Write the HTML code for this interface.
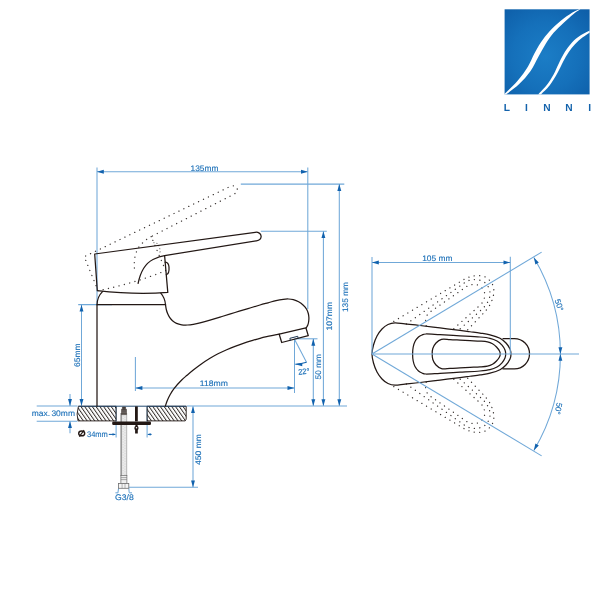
<!DOCTYPE html>
<html><head><meta charset="utf-8"><style>
html,body{margin:0;padding:0;background:#fff;}
svg{display:block;font-family:"Liberation Sans",sans-serif;will-change:transform;}
text{text-rendering:geometricPrecision;}
</style></head><body>
<svg width="600" height="600" viewBox="0 0 600 600">
<line x1="97" y1="167.5" x2="97" y2="304.7" stroke="#70a8d8" stroke-width="1.05"/>
<line x1="97" y1="171.8" x2="307.8" y2="171.8" stroke="#70a8d8" stroke-width="1.05"/>
<polygon points="97.00,171.80 103.80,169.85 103.80,173.75" fill="#1162ae"/>
<polygon points="307.80,171.80 301.00,173.75 301.00,169.85" fill="#1162ae"/>
<text transform="translate(204.5 171) scale(0.1)" x="0" y="0" font-size="81.0" text-anchor="middle" fill="#1c70b8" stroke="#1c70b8" stroke-width="1.3" textLength="280.0" lengthAdjust="spacingAndGlyphs">135mm</text>
<line x1="307.8" y1="167.5" x2="307.8" y2="309" stroke="#70a8d8" stroke-width="1.05"/>
<line x1="240.8" y1="184.1" x2="344.3" y2="184.1" stroke="#70a8d8" stroke-width="1.05"/>
<line x1="339.3" y1="184.1" x2="339.3" y2="406" stroke="#70a8d8" stroke-width="1.05"/>
<polygon points="339.30,184.10 341.25,190.90 337.35,190.90" fill="#1162ae"/>
<polygon points="339.30,406.00 337.35,399.20 341.25,399.20" fill="#1162ae"/>
<text transform="translate(347.8 297) rotate(-90) scale(0.1)" x="0" y="0" font-size="81.0" text-anchor="middle" fill="#1c70b8" stroke="#1c70b8" stroke-width="1.3" textLength="300.0" lengthAdjust="spacingAndGlyphs">135 mm</text>
<line x1="260.8" y1="231.3" x2="326.8" y2="231.3" stroke="#70a8d8" stroke-width="1.05"/>
<line x1="323.4" y1="231.3" x2="323.4" y2="406" stroke="#70a8d8" stroke-width="1.05"/>
<polygon points="323.40,231.30 325.35,238.10 321.45,238.10" fill="#1162ae"/>
<polygon points="323.40,406.00 321.45,399.20 325.35,399.20" fill="#1162ae"/>
<text transform="translate(332 316.2) rotate(-90) scale(0.1)" x="0" y="0" font-size="81.0" text-anchor="middle" fill="#1c70b8" stroke="#1c70b8" stroke-width="1.3" textLength="285.0" lengthAdjust="spacingAndGlyphs">107mm</text>
<line x1="294.5" y1="338.8" x2="317.5" y2="338.8" stroke="#70a8d8" stroke-width="1.05"/>
<line x1="313.3" y1="338.8" x2="313.3" y2="406" stroke="#70a8d8" stroke-width="1.05"/>
<polygon points="313.30,338.80 315.25,345.80 311.35,345.80" fill="#1162ae"/>
<polygon points="313.30,406.00 311.35,399.20 315.25,399.20" fill="#1162ae"/>
<text transform="translate(321 366.7) rotate(-90) scale(0.1)" x="0" y="0" font-size="81.0" text-anchor="middle" fill="#1c70b8" stroke="#1c70b8" stroke-width="1.3" textLength="255.0" lengthAdjust="spacingAndGlyphs">50 mm</text>
<line x1="186.7" y1="406" x2="347" y2="406" stroke="#70a8d8" stroke-width="1.05"/>
<line x1="135.4" y1="357" x2="135.4" y2="391" stroke="#70a8d8" stroke-width="1.05"/>
<line x1="294.5" y1="339" x2="294.5" y2="393" stroke="#70a8d8" stroke-width="1.05"/>
<line x1="135.4" y1="388" x2="294.5" y2="388" stroke="#70a8d8" stroke-width="1.05"/>
<polygon points="135.40,388.00 142.40,386.05 142.40,389.95" fill="#1162ae"/>
<polygon points="294.50,388.00 287.50,389.95 287.50,386.05" fill="#1162ae"/>
<text transform="translate(213.8 386) scale(0.1)" x="0" y="0" font-size="81.0" text-anchor="middle" fill="#1c70b8" stroke="#1c70b8" stroke-width="1.3" textLength="280.0" lengthAdjust="spacingAndGlyphs">118mm</text>
<line x1="294.5" y1="339.2" x2="306.5" y2="362.2" stroke="#70a8d8" stroke-width="1.05"/>
<path d="M295.3,364.2 Q301.5,364 306.6,362.3" fill="none" stroke="#1162ae" stroke-width="1.1"/>
<polygon points="295.30,364.30 302.35,362.95 302.24,366.14" fill="#1162ae"/>
<text transform="translate(304 374.2) rotate(-5) scale(0.1)" x="0" y="0" font-size="80.0" text-anchor="middle" fill="#1c70b8" stroke="#1c70b8" stroke-width="2.0" textLength="112.0" lengthAdjust="spacingAndGlyphs">22°</text>
<line x1="78.2" y1="304.6" x2="112" y2="304.6" stroke="#70a8d8" stroke-width="1.05"/>
<line x1="81.5" y1="304.7" x2="81.5" y2="405.8" stroke="#70a8d8" stroke-width="1.05"/>
<polygon points="81.50,304.70 83.45,311.50 79.55,311.50" fill="#1162ae"/>
<polygon points="81.50,405.80 79.55,399.00 83.45,399.00" fill="#1162ae"/>
<text transform="translate(79.8 355.2) rotate(-90) scale(0.1)" x="0" y="0" font-size="81.0" text-anchor="middle" fill="#1c70b8" stroke="#1c70b8" stroke-width="1.3" textLength="238.0" lengthAdjust="spacingAndGlyphs">65mm</text>
<line x1="36.7" y1="405.9" x2="77.5" y2="405.9" stroke="#70a8d8" stroke-width="1.05"/>
<line x1="36.7" y1="421.2" x2="77.5" y2="421.2" stroke="#70a8d8" stroke-width="1.05"/>
<line x1="70" y1="394" x2="70" y2="405.9" stroke="#70a8d8" stroke-width="1.05"/>
<polygon points="70.00,405.90 68.05,399.10 71.95,399.10" fill="#1162ae"/>
<line x1="70" y1="421.2" x2="70" y2="433.3" stroke="#70a8d8" stroke-width="1.05"/>
<polygon points="70.00,421.20 71.95,428.00 68.05,428.00" fill="#1162ae"/>
<text transform="translate(53.35 416.4) scale(0.1)" x="0" y="0" font-size="81.0" text-anchor="middle" fill="#1c70b8" stroke="#1c70b8" stroke-width="1.3" textLength="433.0" lengthAdjust="spacingAndGlyphs">max.<tspan dx="12">30mm</tspan></text>
<line x1="116.1" y1="406" x2="116.1" y2="437.5" stroke="#70a8d8" stroke-width="1.05"/>
<line x1="147.1" y1="406" x2="147.1" y2="437.5" stroke="#70a8d8" stroke-width="1.05"/>
<line x1="108.8" y1="434.4" x2="115" y2="434.4" stroke="#1162ae" stroke-width="1.05"/>
<line x1="148.3" y1="434.4" x2="151.6" y2="434.4" stroke="#1162ae" stroke-width="1.05"/>
<polygon points="116.10,434.40 112.50,435.50 112.50,433.30" fill="#1162ae"/>
<polygon points="147.10,434.40 150.70,433.30 150.70,435.50" fill="#1162ae"/>
<text transform="translate(97.4 436.7) scale(0.1)" x="0" y="0" font-size="81.0" text-anchor="middle" fill="#1c70b8" stroke="#1c70b8" stroke-width="1.3" textLength="208.0" lengthAdjust="spacingAndGlyphs">34mm</text>
<ellipse cx="81.7" cy="433.4" rx="3" ry="2.4" fill="none" stroke="#231815" stroke-width="1.4"/>
<line x1="79.3" y1="436.6" x2="84.1" y2="430.2" stroke="#231815" stroke-width="1.1"/>
<line x1="128.7" y1="487.2" x2="198" y2="487.2" stroke="#70a8d8" stroke-width="1.05"/>
<line x1="193" y1="406.3" x2="193" y2="487.2" stroke="#70a8d8" stroke-width="1.05"/>
<polygon points="193.00,406.30 194.95,413.10 191.05,413.10" fill="#1162ae"/>
<polygon points="193.00,487.20 191.05,480.40 194.95,480.40" fill="#1162ae"/>
<text transform="translate(201 449.5) rotate(-90) scale(0.1)" x="0" y="0" font-size="81.0" text-anchor="middle" fill="#1c70b8" stroke="#1c70b8" stroke-width="1.3" textLength="310.0" lengthAdjust="spacingAndGlyphs">450 mm</text>
<line x1="118.6" y1="488.2" x2="117.9" y2="492.8" stroke="#70a8d8" stroke-width="1.05"/>
<line x1="128.8" y1="488.2" x2="129.2" y2="492.8" stroke="#70a8d8" stroke-width="1.05"/>
<line x1="115.4" y1="492.8" x2="118" y2="492.8" stroke="#70a8d8" stroke-width="1.05"/>
<line x1="129.2" y1="492.8" x2="132" y2="492.8" stroke="#70a8d8" stroke-width="1.05"/>
<text transform="translate(124.4 499.6) scale(0.1)" x="0" y="0" font-size="82.0" text-anchor="middle" fill="#1c70b8" stroke="#1c70b8" stroke-width="1.3" textLength="187.0" lengthAdjust="spacingAndGlyphs">G3/8</text>
<defs><pattern id="h" width="3.1" height="4" patternUnits="userSpaceOnUse" patternTransform="rotate(-35)"><rect x="0" y="0" width="0.95" height="4" fill="#332d2a"/></pattern></defs>
<path d="M78.4,406.3 H116.1 V420.9 H78 L77.1,414 Z" fill="url(#h)" stroke="#231815" stroke-width="0.9"/>
<path d="M147.1,406.3 H186.2 V419.2 L185.2,420.9 H147.1 Z" fill="url(#h)" stroke="#231815" stroke-width="0.9"/>
<line x1="78.4" y1="406.2" x2="186.2" y2="406.2" stroke="#244a72" stroke-width="1"/>
<rect x="121" y="413" width="5.8" height="63" fill="#e0e0e0"/>
<line x1="121.1" y1="413" x2="121.1" y2="476" stroke="#7a7a7a" stroke-width="1.2"/>
<line x1="126.7" y1="413" x2="126.7" y2="476" stroke="#a8a8a8" stroke-width="0.8"/>
<line x1="123.1" y1="414" x2="123.1" y2="476" stroke="#f6f6f6" stroke-width="0.9" stroke-dasharray="1.4 1.2"/>
<line x1="125" y1="415.2" x2="125" y2="476" stroke="#f6f6f6" stroke-width="0.9" stroke-dasharray="1.4 1.2"/>
<path d="M122.4,407 H125.6 V409.2 H126.5 V414.6 H121.5 V409.2 H122.4 Z" fill="#4a4340" stroke="#231815" stroke-width="0.4"/>
<line x1="121.6" y1="411" x2="126.4" y2="411" stroke="#a09a98" stroke-width="0.5"/><line x1="121.6" y1="412.8" x2="126.4" y2="412.8" stroke="#a09a98" stroke-width="0.5"/>
<rect x="120.9" y="475.6" width="6" height="8" fill="#efefef" stroke="#6b6b6b" stroke-width="0.7"/>
<line x1="120.9" y1="477.6" x2="126.9" y2="477.6" stroke="#777" stroke-width="0.6"/><line x1="120.9" y1="479.6" x2="126.9" y2="479.6" stroke="#777" stroke-width="0.6"/>
<rect x="118.5" y="483.5" width="10.3" height="4.8" fill="#f4f4f4" stroke="#6f6f6f" stroke-width="0.8"/>
<line x1="122.1" y1="483.5" x2="122.1" y2="488.3" stroke="#888" stroke-width="0.6"/><line x1="125" y1="483.5" x2="125" y2="488.3" stroke="#888" stroke-width="0.6"/>
<rect x="112.2" y="421.5" width="38.8" height="3.4" rx="1.2" fill="#231815"/>
<rect x="135" y="406.4" width="2.8" height="15" fill="#231815"/>
<path d="M135.4,424 H137.6 V426 C138.8,426.6 138.8,429.4 137.8,430 V433.6 H135.1 V430 C134.1,429.4 134.1,426.6 135.4,426 Z" fill="#231815"/>
<circle cx="136.5" cy="427.8" r="0.75" fill="#fff"/>
<path d="M97,406 V304.7 H165.5" fill="none" stroke="#231815" stroke-width="1.25" stroke-linecap="round" stroke-linejoin="round"/>
<path d="M102.5,291.6 C99,295 97.2,299.5 97,304.7" fill="none" stroke="#231815" stroke-width="1.25" stroke-linecap="round" stroke-linejoin="round"/>
<path d="M160.8,293.2 C163.6,296.5 165.2,300.5 165.5,304.7" fill="none" stroke="#231815" stroke-width="1.25" stroke-linecap="round" stroke-linejoin="round"/>
<path d="M165.50,304.70 C165.63,305.50 165.95,308.02 166.30,309.50 C166.65,310.98 167.05,312.28 167.60,313.60 C168.15,314.92 168.78,316.20 169.60,317.40 C170.42,318.60 171.35,319.80 172.50,320.80 C173.65,321.80 174.97,322.73 176.50,323.40 C178.03,324.07 179.87,324.53 181.70,324.80 C183.53,325.07 185.57,325.08 187.50,325.00 C189.43,324.92 191.05,324.70 193.30,324.30 C195.55,323.90 198.22,323.30 201.00,322.60 C203.78,321.90 206.50,321.12 210.00,320.10 C213.50,319.08 217.83,317.77 222.00,316.50 C226.17,315.23 230.67,313.82 235.00,312.50 C239.33,311.18 243.83,309.85 248.00,308.60 C252.17,307.35 256.67,305.97 260.00,305.00 C263.33,304.03 265.33,303.53 268.00,302.80 C270.67,302.07 273.45,301.18 276.00,300.60 C278.55,300.02 281.22,299.57 283.30,299.30 C285.38,299.03 286.83,298.93 288.50,299.00 C290.17,299.07 291.62,299.23 293.30,299.70 C294.98,300.17 296.93,300.88 298.60,301.80 C300.27,302.72 301.97,303.97 303.30,305.20 C304.63,306.43 305.77,307.82 306.60,309.20 C307.43,310.58 307.92,312.07 308.30,313.50 C308.68,314.93 308.85,316.38 308.90,317.80 C308.95,319.22 308.78,320.80 308.60,322.00 C308.42,323.20 308.18,324.03 307.80,325.00 C307.42,325.97 306.55,327.33 306.30,327.80" fill="none" stroke="#231815" stroke-width="1.25" stroke-linecap="round" stroke-linejoin="round"/>
<path d="M165.40,406.00 C165.72,405.08 166.50,402.42 167.30,400.50 C168.10,398.58 169.05,396.53 170.20,394.50 C171.35,392.47 172.28,390.72 174.20,388.30 C176.12,385.88 179.57,382.17 181.70,380.00 C183.83,377.83 185.07,376.97 187.00,375.30 C188.93,373.63 190.97,371.85 193.30,370.00 C195.63,368.15 198.22,366.15 201.00,364.20 C203.78,362.25 207.17,360.03 210.00,358.30 C212.83,356.57 215.22,355.23 218.00,353.80 C220.78,352.37 223.87,350.95 226.70,349.70 C229.53,348.45 232.23,347.37 235.00,346.30 C237.77,345.23 240.47,344.25 243.30,343.30 C246.13,342.35 249.22,341.43 252.00,340.60 C254.78,339.77 257.55,338.95 260.00,338.30 C262.45,337.65 264.53,337.18 266.70,336.70 C268.87,336.22 270.92,335.82 273.00,335.40 C275.08,334.98 278.17,334.40 279.20,334.20" fill="none" stroke="#231815" stroke-width="1.25" stroke-linecap="round" stroke-linejoin="round"/>
<path d="M279.2,334.2 L305.9,327.8 L308.3,335.7 L281.7,342.5 Z" fill="none" stroke="#231815" stroke-width="1.25" stroke-linecap="round" stroke-linejoin="round"/>
<path d="M290.3,340.3 L289.9,338.3 L297.7,336.3 L298.2,338.3" fill="none" stroke="#1d3450" stroke-width="1.0" stroke-linecap="round" stroke-linejoin="round"/>
<g transform="rotate(-18 98 288.2)">
<path d="M97.3,290.6 L94.7,254 L255.2,232.3 C258.4,231.9 260.9,233.6 261.1,236.1 C261.3,238.6 259.4,240.3 256.4,240.8 L164.6,255.6 L167.8,292.4 C145,294.2 120,293.2 97.3,290.6 Z" fill="none" stroke="#3a3432" stroke-width="1.3" stroke-dasharray="0.1 5.35" stroke-linecap="round"/>
<path d="M164.6,255.6 C161.5,256 158.5,256.8 153,259.5 C145,263.6 140.3,272.5 138.1,283.4" fill="none" stroke="#3a3432" stroke-width="1.3" stroke-dasharray="0.1 5.35" stroke-linecap="round"/>
<path d="M165.2,262.2 C167.6,262.4 168.8,264.4 169,267 C169.2,270 168.7,274.2 166.3,274.5" fill="none" stroke="#3a3432" stroke-width="1.0" stroke-dasharray="0.1 3" stroke-linecap="round"/>
</g>
<path d="M97.3,290.6 L94.7,254 L255.2,232.3 C258.4,231.9 260.9,233.6 261.1,236.1 C261.3,238.6 259.4,240.3 256.4,240.8 L164.6,255.6 L167.8,292.4 C145,294.2 120,293.2 97.3,290.6 Z" fill="none" stroke="#231815" stroke-width="1.25" stroke-linecap="round" stroke-linejoin="round"/>
<path d="M164.6,255.6 C161.5,256 158.5,256.8 153,259.5 C145,263.6 140.3,272.5 138.1,283.4" fill="none" stroke="#231815" stroke-width="1.25" stroke-linecap="round" stroke-linejoin="round"/>
<path d="M165.2,262.2 C167.6,262.4 168.8,264.4 169,267 C169.2,270 168.7,274.2 166.3,274.5" fill="none" stroke="#231815" stroke-width="1.25" stroke-linecap="round" stroke-linejoin="round"/>
<g>
<path d="M393.75,321.40 L464.90,278.90 C465.75,278.55 468.32,277.32 470.00,276.80 C471.68,276.28 473.20,275.97 475.00,275.80 C476.80,275.63 478.95,275.53 480.80,275.80 C482.65,276.07 484.50,276.48 486.10,277.40 C487.70,278.32 489.23,279.88 490.40,281.30 C491.57,282.72 492.52,284.25 493.10,285.90 C493.68,287.55 493.90,289.38 493.90,291.20 C493.90,293.02 493.53,295.02 493.10,296.80 C492.67,298.58 492.02,300.25 491.30,301.90 C490.58,303.55 489.77,305.18 488.80,306.70 C487.83,308.22 486.05,310.28 485.50,311.00 L465.20,332.40" fill="none" stroke="#3a3432" stroke-width="1.3" stroke-dasharray="0.1 5.35" stroke-linecap="round"/>
<path d="M406.40,324.00 L465.90,281.80 C466.73,281.48 469.15,280.25 470.90,279.90 C472.65,279.55 474.58,279.53 476.40,279.70 C478.22,279.87 480.08,280.15 481.80,280.90 C483.52,281.65 485.50,282.88 486.70,284.20 C487.90,285.52 488.42,287.15 489.00,288.80 C489.58,290.45 490.23,292.30 490.20,294.10 C490.17,295.90 489.45,297.88 488.80,299.60 C488.15,301.32 487.33,302.88 486.30,304.40 C485.27,305.92 483.22,307.98 482.60,308.70 L457.20,331.50" fill="none" stroke="#3a3432" stroke-width="1.3" stroke-dasharray="0.1 5.35" stroke-linecap="round"/>
<path d="M426.20,325.80 C426.10,324.93 425.43,322.40 425.60,320.60 C425.77,318.80 426.28,316.55 427.20,315.00 C428.12,313.45 430.45,311.92 431.10,311.30 L467.10,286.20 C467.98,285.92 470.60,284.68 472.40,284.50 C474.20,284.32 476.27,284.47 477.90,285.10 C479.53,285.73 481.07,286.93 482.20,288.30 C483.33,289.67 484.38,291.55 484.70,293.30 C485.02,295.05 484.60,297.12 484.10,298.80 C483.60,300.48 482.78,301.98 481.70,303.40 C480.62,304.82 478.28,306.65 477.60,307.30 L452.00,330.30" fill="none" stroke="#3a3432" stroke-width="1.3" stroke-dasharray="0.1 5.35" stroke-linecap="round"/>
</g>
<g transform="translate(0 708) scale(1 -1)">
<path d="M393.75,321.40 L464.90,278.90 C465.75,278.55 468.32,277.32 470.00,276.80 C471.68,276.28 473.20,275.97 475.00,275.80 C476.80,275.63 478.95,275.53 480.80,275.80 C482.65,276.07 484.50,276.48 486.10,277.40 C487.70,278.32 489.23,279.88 490.40,281.30 C491.57,282.72 492.52,284.25 493.10,285.90 C493.68,287.55 493.90,289.38 493.90,291.20 C493.90,293.02 493.53,295.02 493.10,296.80 C492.67,298.58 492.02,300.25 491.30,301.90 C490.58,303.55 489.77,305.18 488.80,306.70 C487.83,308.22 486.05,310.28 485.50,311.00 L465.20,332.40" fill="none" stroke="#3a3432" stroke-width="1.3" stroke-dasharray="0.1 5.35" stroke-linecap="round"/>
<path d="M406.40,324.00 L465.90,281.80 C466.73,281.48 469.15,280.25 470.90,279.90 C472.65,279.55 474.58,279.53 476.40,279.70 C478.22,279.87 480.08,280.15 481.80,280.90 C483.52,281.65 485.50,282.88 486.70,284.20 C487.90,285.52 488.42,287.15 489.00,288.80 C489.58,290.45 490.23,292.30 490.20,294.10 C490.17,295.90 489.45,297.88 488.80,299.60 C488.15,301.32 487.33,302.88 486.30,304.40 C485.27,305.92 483.22,307.98 482.60,308.70 L457.20,331.50" fill="none" stroke="#3a3432" stroke-width="1.3" stroke-dasharray="0.1 5.35" stroke-linecap="round"/>
<path d="M426.20,325.80 C426.10,324.93 425.43,322.40 425.60,320.60 C425.77,318.80 426.28,316.55 427.20,315.00 C428.12,313.45 430.45,311.92 431.10,311.30 L467.10,286.20 C467.98,285.92 470.60,284.68 472.40,284.50 C474.20,284.32 476.27,284.47 477.90,285.10 C479.53,285.73 481.07,286.93 482.20,288.30 C483.33,289.67 484.38,291.55 484.70,293.30 C485.02,295.05 484.60,297.12 484.10,298.80 C483.60,300.48 482.78,301.98 481.70,303.40 C480.62,304.82 478.28,306.65 477.60,307.30 L452.00,330.30" fill="none" stroke="#3a3432" stroke-width="1.3" stroke-dasharray="0.1 5.35" stroke-linecap="round"/>
</g>
<path d="M372.00,354.00 C372.00,351.00 372.67,348.00 373.50,345.00 C374.33,342.00 375.58,338.67 377.00,336.00 C378.42,333.33 380.17,330.92 382.00,329.00 C383.83,327.08 385.83,325.53 388.00,324.50 C390.17,323.47 392.17,322.90 395.00,322.80 C397.83,322.70 400.83,323.45 405.00,323.90 C409.17,324.35 414.17,324.83 420.00,325.50 C425.83,326.17 433.33,327.08 440.00,327.90 C446.67,328.72 455.00,329.76 460.00,330.40 C465.00,331.04 466.67,331.30 470.00,331.75 C473.33,332.20 476.67,332.59 480.00,333.10 C483.33,333.61 486.67,333.95 490.00,334.80 C493.33,335.65 497.33,336.83 500.00,338.20 C502.67,339.57 504.33,341.20 506.00,343.00 C507.67,344.80 509.17,347.17 510.00,349.00 C510.83,350.83 511.00,352.33 511.00,354.00 C511.00,355.67 510.83,357.17 510.00,359.00 C509.17,360.83 507.67,363.20 506.00,365.00 C504.33,366.80 502.67,368.43 500.00,369.80 C497.33,371.17 493.33,372.35 490.00,373.20 C486.67,374.05 483.33,374.39 480.00,374.90 C476.67,375.41 473.33,375.80 470.00,376.25 C466.67,376.70 465.00,376.96 460.00,377.60 C455.00,378.24 446.67,379.28 440.00,380.10 C433.33,380.92 425.83,381.83 420.00,382.50 C414.17,383.17 409.17,383.65 405.00,384.10 C400.83,384.55 397.83,385.30 395.00,385.20 C392.17,385.10 390.17,384.53 388.00,383.50 C385.83,382.47 383.83,380.92 382.00,379.00 C380.17,377.08 378.42,374.67 377.00,372.00 C375.58,369.33 374.33,366.00 373.50,363.00 C372.67,360.00 372.00,357.00 372.00,354.00 Z" fill="none" stroke="#231815" stroke-width="1.25" stroke-linecap="round" stroke-linejoin="round"/>
<path d="M503,338.6 H514.4 C522.8,338.6 529.5,345.4 529.5,353.75 C529.5,362.1 522.8,368.9 514.4,368.9 H503" fill="none" stroke="#231815" stroke-width="1.25" stroke-linecap="round" stroke-linejoin="round"/>
<path d="M412.60,354.00 C412.60,351.67 412.80,349.08 413.20,347.00 C413.60,344.92 414.12,343.17 415.00,341.50 C415.88,339.83 417.33,338.08 418.50,337.00 C419.67,335.92 420.75,335.50 422.00,335.00 C423.25,334.50 423.00,334.05 426.00,334.00 C429.00,333.95 434.33,334.40 440.00,334.70 C445.67,335.00 453.33,335.42 460.00,335.80 C466.67,336.18 475.00,336.58 480.00,337.00 C485.00,337.42 487.17,337.63 490.00,338.30 C492.83,338.97 495.00,339.85 497.00,341.00 C499.00,342.15 500.67,343.70 502.00,345.20 C503.33,346.70 504.38,348.53 505.00,350.00 C505.62,351.47 505.70,352.67 505.70,354.00 C505.70,355.33 505.62,356.53 505.00,358.00 C504.38,359.47 503.33,361.30 502.00,362.80 C500.67,364.30 499.00,365.85 497.00,367.00 C495.00,368.15 492.83,369.03 490.00,369.70 C487.17,370.37 485.00,370.58 480.00,371.00 C475.00,371.42 466.67,371.82 460.00,372.20 C453.33,372.58 445.67,373.00 440.00,373.30 C434.33,373.60 429.00,374.05 426.00,374.00 C423.00,373.95 423.25,373.50 422.00,373.00 C420.75,372.50 419.67,372.08 418.50,371.00 C417.33,369.92 415.88,368.17 415.00,366.50 C414.12,364.83 413.60,363.08 413.20,361.00 C412.80,358.92 412.60,356.33 412.60,354.00 Z" fill="none" stroke="#231815" stroke-width="1.25" stroke-linecap="round" stroke-linejoin="round"/>
<path d="M432.20,354.00 C432.20,352.17 432.17,350.33 432.80,348.50 C433.43,346.67 434.55,344.52 436.00,343.00 C437.45,341.48 439.17,339.97 441.50,339.40 C443.83,338.83 446.92,339.48 450.00,339.60 C453.08,339.72 456.67,339.93 460.00,340.10 C463.33,340.27 466.67,340.43 470.00,340.60 C473.33,340.77 477.08,340.88 480.00,341.10 C482.92,341.32 485.42,341.45 487.50,341.90 C489.58,342.35 491.00,342.95 492.50,343.80 C494.00,344.65 495.33,345.80 496.50,347.00 C497.67,348.20 498.88,349.83 499.50,351.00 C500.12,352.17 500.20,353.00 500.20,354.00 C500.20,355.00 500.12,355.83 499.50,357.00 C498.88,358.17 497.67,359.80 496.50,361.00 C495.33,362.20 494.00,363.35 492.50,364.20 C491.00,365.05 489.58,365.65 487.50,366.10 C485.42,366.55 482.92,366.68 480.00,366.90 C477.08,367.12 473.33,367.23 470.00,367.40 C466.67,367.57 463.33,367.73 460.00,367.90 C456.67,368.07 453.08,368.28 450.00,368.40 C446.92,368.52 443.83,369.17 441.50,368.60 C439.17,368.03 437.45,366.52 436.00,365.00 C434.55,363.48 433.43,361.33 432.80,359.50 C432.17,357.67 432.20,355.83 432.20,354.00 Z" fill="none" stroke="#231815" stroke-width="1.25" stroke-linecap="round" stroke-linejoin="round"/>
<line x1="372" y1="257" x2="372" y2="354" stroke="#70a8d8" stroke-width="1.05"/>
<line x1="510.3" y1="256.7" x2="510.3" y2="354" stroke="#70a8d8" stroke-width="1.05"/>
<line x1="372" y1="262.5" x2="510.3" y2="262.5" stroke="#70a8d8" stroke-width="1.05"/>
<polygon points="372.00,262.50 378.80,260.55 378.80,264.45" fill="#1162ae"/>
<polygon points="510.30,262.50 503.50,264.45 503.50,260.55" fill="#1162ae"/>
<text transform="translate(437.3 261) scale(0.1)" x="0" y="0" font-size="81.0" text-anchor="middle" fill="#1c70b8" stroke="#1c70b8" stroke-width="1.3" textLength="303.0" lengthAdjust="spacingAndGlyphs">105 mm</text>
<line x1="372" y1="354" x2="579" y2="354" stroke="#70a8d8" stroke-width="1.05"/>
<line x1="372" y1="354" x2="541.6445796438062" y2="252.1034698907563" stroke="#70a8d8" stroke-width="1.05"/>
<line x1="372" y1="354" x2="541.6445796438062" y2="455.8965301092437" stroke="#70a8d8" stroke-width="1.05"/>
<path d="M533.83,257.53 A188.4,188.4 0 0 1 533.83,450.47" fill="none" stroke="#70a8d8" stroke-width="1.05"/>
<polygon points="533.83,257.53 538.81,262.55 535.40,264.43" fill="#1162ae"/>
<polygon points="533.83,450.47 535.40,443.57 538.81,445.45" fill="#1162ae"/>
<polygon points="560.40,354.00 558.45,347.20 562.35,347.20" fill="#1162ae"/>
<polygon points="560.40,354.00 562.35,360.80 558.45,360.80" fill="#1162ae"/>
<text transform="translate(556.45 305.96) rotate(71) scale(0.1)" x="0" y="0" font-size="82.0" text-anchor="middle" fill="#1c70b8" stroke="#1c70b8" stroke-width="1.2" textLength="120.0" lengthAdjust="spacingAndGlyphs">50°</text>
<text transform="translate(555.61 408.04) rotate(101) scale(0.1)" x="0" y="0" font-size="82.0" text-anchor="middle" fill="#1c70b8" stroke="#1c70b8" stroke-width="1.2" textLength="120.0" lengthAdjust="spacingAndGlyphs">50°</text>
<defs><radialGradient id="lg" cx="0.48" cy="0.55" r="0.72"><stop offset="0" stop-color="#1b7dc6"/><stop offset="0.55" stop-color="#1570ba"/><stop offset="1" stop-color="#0e5fa9"/></radialGradient></defs>
<rect x="504.6" y="9.3" width="85" height="85.1" fill="url(#lg)"/>
<path d="M504.60,93.80 C506.77,91.63 513.70,85.37 517.60,80.80 C521.50,76.23 525.20,70.93 528.00,66.40 C530.80,61.87 532.27,57.60 534.40,53.60 C536.53,49.60 538.27,46.13 540.80,42.40 C543.33,38.67 546.27,34.80 549.60,31.20 C552.93,27.60 557.07,23.87 560.80,20.80 C564.53,17.73 568.90,14.72 572.00,12.80 C575.10,10.88 578.17,9.88 579.40,9.30 L580.4,9.3 C579.27,10.07 576.33,11.72 573.60,13.90 C570.87,16.08 567.33,19.25 564.00,22.40 C560.67,25.55 556.67,29.20 553.60,32.80 C550.53,36.40 548.13,40.00 545.60,44.00 C543.07,48.00 540.93,52.27 538.40,56.80 C535.87,61.33 533.60,66.67 530.40,71.20 C527.20,75.73 523.23,80.13 519.20,84.00 C515.17,87.87 508.37,92.67 506.20,94.40 L504.6,94.4 Z" fill="#fff"/>
<path d="M538.20,94.40 C539.57,92.93 543.83,88.93 546.40,85.60 C548.97,82.27 551.52,78.13 553.60,74.40 C555.68,70.67 557.03,66.93 558.90,63.20 C560.77,59.47 562.62,55.47 564.80,52.00 C566.98,48.53 569.47,45.12 572.00,42.40 C574.53,39.68 577.07,37.70 580.00,35.70 C582.93,33.70 588.00,31.28 589.60,30.40 L589.6,32.7 C588.40,33.52 584.80,35.72 582.40,37.60 C580.00,39.48 577.47,41.60 575.20,44.00 C572.93,46.40 570.80,49.07 568.80,52.00 C566.80,54.93 565.07,58.13 563.20,61.60 C561.33,65.07 559.87,68.80 557.60,72.80 C555.33,76.80 552.37,82.00 549.60,85.60 C546.83,89.20 542.43,92.93 541.00,94.40 Z" fill="#fff"/>
<text x="506.9" y="111.4" font-size="10.2" font-weight="bold" text-anchor="middle" fill="#1463ac">L</text>
<text x="526.5" y="111.4" font-size="10.2" font-weight="bold" text-anchor="middle" fill="#1463ac">I</text>
<text x="546.9" y="111.4" font-size="10.2" font-weight="bold" text-anchor="middle" fill="#1463ac">N</text>
<text x="569" y="111.4" font-size="10.2" font-weight="bold" text-anchor="middle" fill="#1463ac">N</text>
<text x="589.6" y="111.4" font-size="10.2" font-weight="bold" text-anchor="middle" fill="#1463ac">I</text>
</svg></body></html>
